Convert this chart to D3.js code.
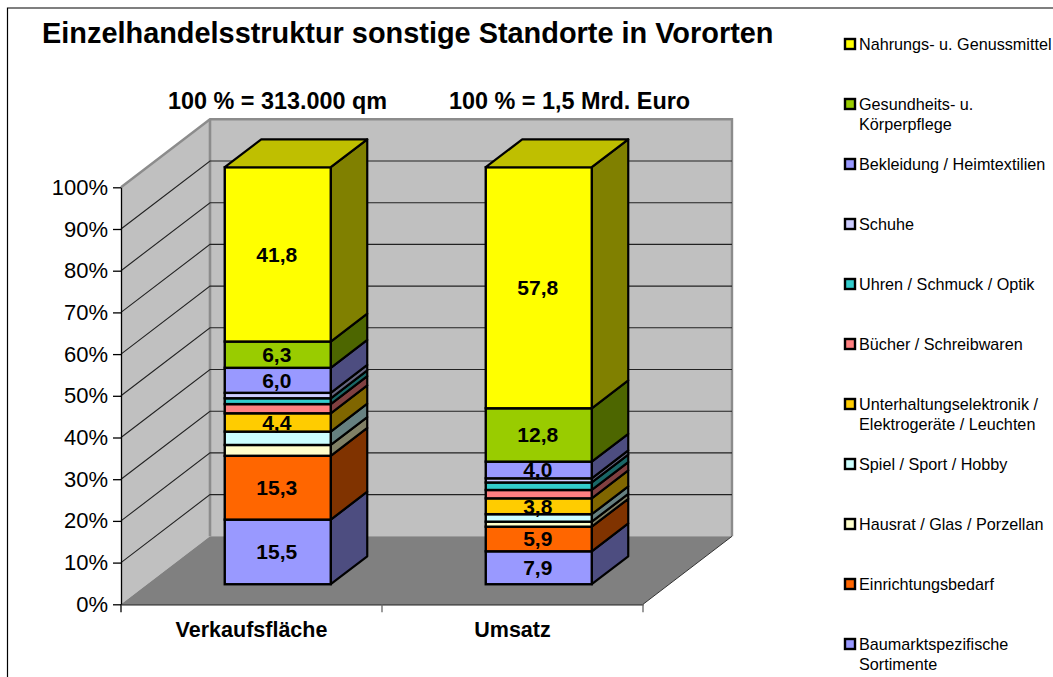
<!DOCTYPE html>
<html><head><meta charset="utf-8">
<script src="https://cdn.jsdelivr.net/npm/d3@7"></script>
<style>html,body{margin:0;padding:0;background:#fff;overflow:hidden}svg{display:block}text{font-family:"Liberation Sans",Arial,sans-serif}</style>
</head><body><div id="chart"></div>
<script>
const categories = ["Verkaufsfläche", "Umsatz"];
const subtitles = ["100 % = 313.000 qm", "100 % = 1,5 Mrd. Euro"];
const seriesNames = ["Nahrungs- u. Genussmittel", "Gesundheits- u. Körperpflege", "Bekleidung / Heimtextilien", "Schuhe", "Uhren / Schmuck / Optik", "Bücher / Schreibwaren", "Unterhaltungselektronik / Elektrogeräte / Leuchten", "Spiel / Sport / Hobby", "Hausrat / Glas / Porzellan", "Einrichtungsbedarf", "Baumarktspezifische Sortimente"];
const legendLines = [["Nahrungs- u. Genussmittel"], ["Gesundheits- u.", "Körperpflege"], ["Bekleidung / Heimtextilien"], ["Schuhe"], ["Uhren / Schmuck / Optik"], ["Bücher / Schreibwaren"], ["Unterhaltungselektronik /", "Elektrogeräte / Leuchten"], ["Spiel / Sport / Hobby"], ["Hausrat / Glas / Porzellan"], ["Einrichtungsbedarf"], ["Baumarktspezifische", "Sortimente"]];
const colors = ["#FFFF00", "#99CC00", "#9999FF", "#CCCCFF", "#33CCCC", "#FF8080", "#FFCC00", "#CCFFFF", "#FFFFCC", "#FF6600", "#9999FF"];
const verkaufsflaeche = [41.8, 6.3, 6.0, 1.3, 1.4, 2.2, 4.4, 3.2, 2.6, 15.3, 15.5];
const umsatz = [57.8, 12.8, 4.0, 1.0, 1.8, 2.0, 3.8, 1.8, 1.2, 5.9, 7.9];
const yTicks = [0, 10, 20, 30, 40, 50, 60, 70, 80, 90, 100];
const minLabelled = 3.8;

const W = 1053, H = 677;
const svg = d3.select("#chart").append("svg").attr("width", W).attr("height", H);

const y = d3.scaleLinear().domain([0, 100]).range([604.3, 187.3]);
const x = d3.scaleBand().domain(categories).range([121, 643]);
const wallDx = 89, wallDy = -68;
const pt = (px, py, t) => [px + wallDx * t, py + wallDy * t];
const barFront = 0.295, barBack = 0.705, barW = 106;

// frame
svg.append("path").attr("d", `M7.5,${H}V8H${W}`).attr("fill", "none").attr("stroke", "#000").attr("stroke-width", 1.2);

// walls
const poly = (pts) => pts.map(p => p.join(",")).join(" ");
const x0 = x.range()[0], x1 = x.range()[1], yB = y(0), yT = y(100);
const walls = svg.append("g");
walls.append("polygon").attr("points", poly([[x0, yB], [x0, yT], pt(x0, yT, 1), pt(x0, yB, 1)])).attr("fill", "#C0C0C0");
walls.append("polygon").attr("points", poly([pt(x0, yT, 1), pt(x1, yT, 1), pt(x1, yB, 1), pt(x0, yB, 1)])).attr("fill", "#C0C0C0");
walls.append("polygon").attr("points", poly([[x0, yB], [x1, yB], pt(x1, yB, 1), pt(x0, yB, 1)])).attr("fill", "#808080");

// gridlines
const grid = svg.append("g");
grid.selectAll("polyline").data(yTicks.filter(d => d > 0 && d < 100)).join("polyline")
  .attr("points", d => poly([[x0, y(d)], pt(x0, y(d), 1), pt(x1, y(d), 1)]))
  .attr("fill", "none").attr("stroke", "#222").attr("stroke-width", 1.1);
// wall edges
walls.append("polyline").attr("points", poly([[x0, yT], pt(x0, yT, 1), pt(x1, yT, 1), pt(x1, yB, 1)]))
  .attr("fill", "none").attr("stroke", "#8c8c8c").attr("stroke-width", 2.4);
walls.append("line").attr("x1", pt(x0, yT, 1)[0]).attr("y1", pt(x0, yT, 1)[1]).attr("x2", pt(x0, yB, 1)[0]).attr("y2", pt(x0, yB, 1)[1])
  .attr("stroke", "#8c8c8c").attr("stroke-width", 2.6);
svg.append("polyline").attr("points", poly([[x1, yB], pt(x1, yB, 1)])).attr("fill", "none").attr("stroke", "#333").attr("stroke-width", 1);

// axes
const yAxis = d3.axisLeft(y).tickValues(yTicks).tickFormat(d => d + "%").tickSize(8).tickSizeOuter(0);
const gy = svg.append("g").attr("transform", `translate(${x0},0)`).call(yAxis);
gy.selectAll("text").style("font-size", "22px").attr("x", -13).attr("fill", "#000");
gy.selectAll("line,path").attr("stroke", "#000").attr("stroke-width", 1.3);
const gx = svg.append("g").attr("transform", `translate(0,${yB})`)
  .call(d3.axisBottom(x).tickSize(0).tickSizeOuter(0));
gx.select("path").attr("stroke", "#222").attr("stroke-width", 1.3);
gx.selectAll(".tick line").remove();
gx.selectAll("text").style("font-size", "21.5px").style("font-weight", "bold").attr("y", 25.5).attr("dy", "0.35em").attr("fill", "#000");
const xEdges = [x0, x0 + x.bandwidth(), x1];
svg.append("g").selectAll("line").data(xEdges).join("line")
  .attr("x1", d => d).attr("x2", d => d).attr("y1", yB).attr("y2", yB + 8)
  .attr("stroke", (d, i) => i === 0 ? "#000" : "#666").attr("stroke-width", 1.3);

// stacked bars
const rows = categories.map((c, i) => {
  const row = { category: c };
  seriesNames.forEach((s, j) => row[s] = (i === 0 ? verkaufsflaeche : umsatz)[j]);
  return row;
});
const order = seriesNames.slice().reverse();
const stacked = d3.stack().keys(order)(rows);
const colorOf = d3.scaleOrdinal().domain(seriesNames).range(colors);
const shade = (c, k) => { const r = d3.rgb(c); return d3.rgb(r.r * k, r.g * k, r.b * k).formatHex(); };
const bars = svg.append("g");
categories.forEach((cat, ci) => {
  const left = x(cat) + (x.bandwidth() - barW) / 2 + wallDx * barFront;
  const right = left + barW;
  const yy = v => y(v) + wallDy * barFront;
  const bt = barBack - barFront;
  const dx = wallDx * bt, dy = wallDy * bt;
  const g = bars.append("g");
  stacked.forEach(layer => {
    const d = layer[ci], c = colorOf(layer.key);
    const t = yy(d[1]), b = yy(d[0]);
    g.append("polygon").attr("points", poly([[right, b], [right + dx, b + dy], [right + dx, t + dy], [right, t]]))
      .attr("fill", shade(c, 0.5)).attr("stroke", "#000").attr("stroke-width", 2.2).attr("stroke-linejoin", "round");
    g.append("rect").attr("x", left).attr("y", t).attr("width", barW).attr("height", b - t)
      .attr("fill", c).attr("stroke", "#000").attr("stroke-width", 2.4);
  });
  const topLayer = stacked[stacked.length - 1];
  const t = yy(topLayer[ci][1]);
  g.append("polygon").attr("points", poly([[left, t], [left + dx, t + dy], [right + dx, t + dy], [right, t]]))
    .attr("fill", shade(colorOf(topLayer.key), 0.75)).attr("stroke", "#000").attr("stroke-width", 2.2).attr("stroke-linejoin", "round");
  stacked.forEach(layer => {
    const d = layer[ci], v = d[1] - d[0];
    if (v < minLabelled) return;
    g.append("text").attr("x", (left + right) / 2 - 1).attr("y", (yy(d[0]) + yy(d[1])) / 2).attr("dy", "0.35em")
      .attr("text-anchor", "middle").style("font-size", "21px").style("font-weight", "bold")
      .text(d3.format(".1f")(v).replace(".", ","));
  });
});

// titles
svg.append("text").attr("x", 42).attr("y", 43).style("font-size", "28.9px").style("font-weight", "bold")
  .text("Einzelhandelsstruktur sonstige Standorte in Vororten");
svg.append("g").selectAll("text").data(subtitles).join("text")
  .attr("x", (d, i) => [168, 449][i]).attr("y", 108.5).style("font-size", "23.4px").style("font-weight", "bold").text(d => d);

// legend
const ly = d3.scalePoint().domain(seriesNames).range([44, 644]);
const leg = svg.append("g").selectAll("g").data(seriesNames).join("g").attr("transform", d => `translate(845,${ly(d)})`);
leg.append("rect").attr("x", 0).attr("y", -5).attr("width", 10).attr("height", 10)
  .attr("fill", d => colorOf(d)).attr("stroke", "#000").attr("stroke-width", 2.4);
leg.each(function (d, i) {
  d3.select(this).selectAll("text").data(legendLines[i]).join("text")
    .attr("x", 14).attr("y", (l, k) => 6 + k * 20).style("font-size", "16.2px").attr("fill", "#000").text(l => l);
});
</script></body></html>
